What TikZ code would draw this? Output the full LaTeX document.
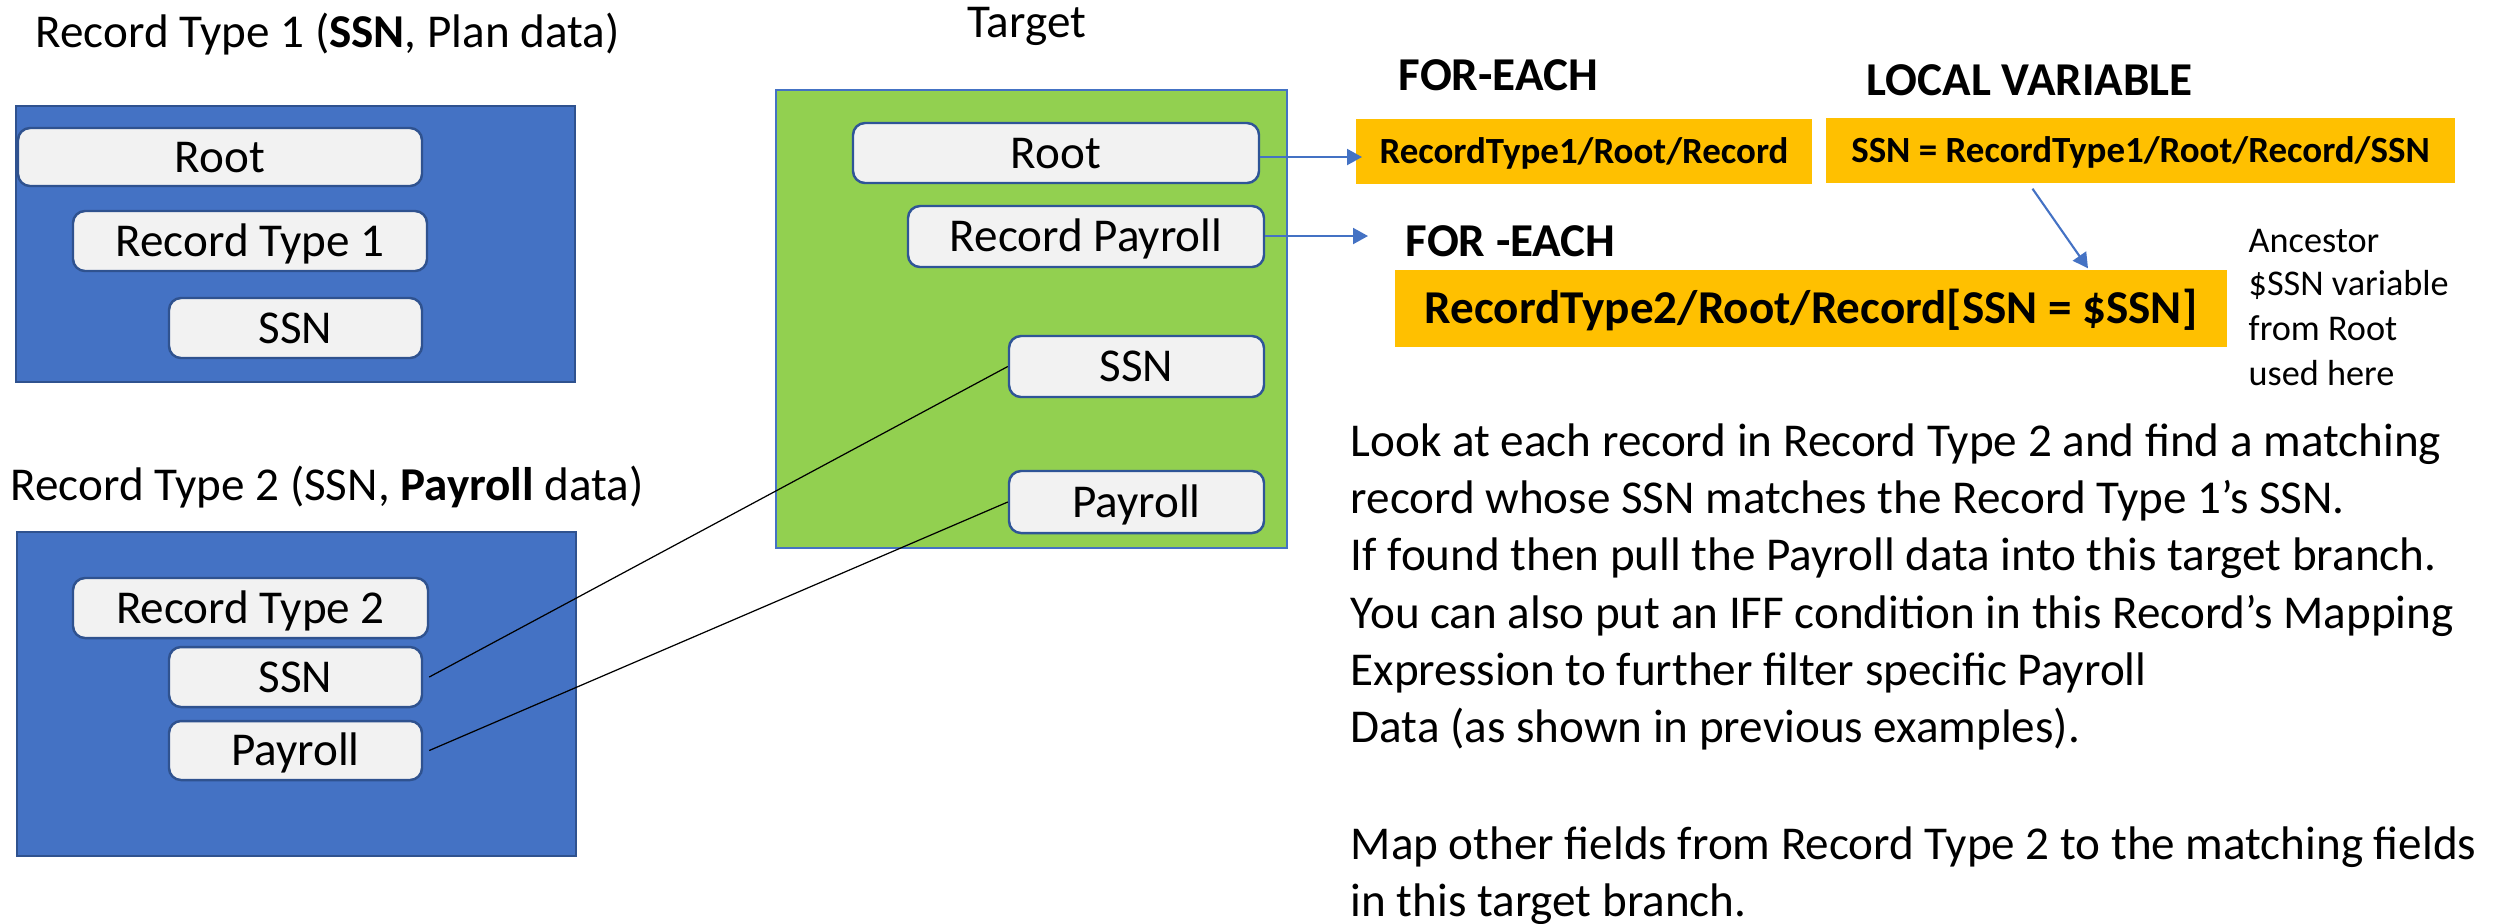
\documentclass[tikz,border=0pt]{standalone}
\usepackage{fontspec}
\setmainfont{Carlito}
\usetikzlibrary{arrows.meta,calc}
\definecolor{bluefill}{HTML}{4472C4}
\definecolor{blueline}{HTML}{2F528F}
\definecolor{greenfill}{HTML}{92D050}
\definecolor{lightfill}{HTML}{F2F2F2}
\definecolor{yellowfill}{HTML}{FFC000}
\definecolor{tgtline}{HTML}{2F5597}
\definecolor{arrowblue}{HTML}{4472C4}
\newcommand\fsbig{\fontsize{13.4pt}{16pt}\selectfont}
\newcommand\fssmall{\fontsize{10.5pt}{12.6pt}\selectfont}
\newcommand\fsnote{\fontsize{10.3pt}{12.4pt}\selectfont}
% name, x1, y1, x2, y2, style, text
\newcommand\mybox[7]{%
  \pgfmathsetmacro\mycx{(#2+#4)/2}%
  \pgfmathsetmacro\mycy{(#3+#5)/2}%
  \pgfmathsetmacro\myww{(#4-#2)*0.01}%
  \pgfmathsetmacro\myhh{(#5-#3)*0.01}%
  \node[#6, minimum width=\myww cm, minimum height=\myhh cm] (#1) at (\mycx,\mycy) {#7};}
\begin{document}
\begin{tikzpicture}[x=0.01cm,y=-0.01cm,
  srccont/.style={draw=blueline, fill=bluefill, line width=0.6pt, inner sep=0},
  tgtcont/.style={draw=bluefill, fill=greenfill, line width=0.6pt, inner sep=0},
  srcbox/.style={draw=blueline, fill=lightfill, rounded corners=0.12cm, line width=0.7pt, inner sep=0, font=\fsbig, text height=8.6pt, text depth=0pt},
  tgtbox/.style={draw=tgtline, fill=lightfill, rounded corners=0.12cm, line width=0.7pt, inner sep=0, font=\fsbig, text height=8.6pt, text depth=0pt},
  yboxs/.style={fill=yellowfill, inner sep=0, font=\fssmall\bfseries, text height=6.8pt, text depth=0pt},
  yboxb/.style={fill=yellowfill, inner sep=0, font=\fsbig\bfseries, text height=8.7pt, text depth=0pt},
  lbl/.style={anchor=base west, inner sep=0},
  link/.style={draw=black, line width=0.35pt},
  arr/.style={draw=arrowblue, line width=0.6pt, -{Triangle[length=0.15cm,width=0.16cm]}}]
\useasboundingbox (0,0) rectangle (2502,923);

% titles
\node[lbl, font=\fsbig] (title1) at (35,47) {Record Type 1 (\textbf{SSN}, Plan data)};
\node[lbl, font=\fsbig] (title2) at (10,500) {Record Type 2 (SSN, \textbf{Payroll} data)};
\node[lbl, font=\fsbig] (titlet) at (967,37) {Target};

% source 1
\mybox{src1}{16}{106}{575}{382}{srccont}{}
\mybox{s1root}{18}{128}{422}{186}{srcbox}{Root}
\mybox{s1rec}{73}{211}{427}{271}{srcbox}{Record Type 1}
\mybox{s1ssn}{169}{298}{422}{358}{srcbox}{SSN}

% source 2
\mybox{src2}{17}{532}{576}{856}{srccont}{}
\mybox{s2rec}{73}{578}{428}{638}{srcbox}{Record Type 2}
\mybox{s2ssn}{169}{647}{422}{707}{srcbox}{SSN}
\mybox{s2pay}{169}{721}{422}{780}{srcbox}{Payroll}

% target
\mybox{tgt}{776}{90}{1287}{548}{tgtcont}{}
\mybox{troot}{853}{123}{1259}{183}{tgtbox}{Root}
\mybox{trp}{908}{206}{1264}{267}{tgtbox}{Record Payroll}
\mybox{tssn}{1009}{336}{1264}{397}{tgtbox}{SSN}
\mybox{tpay}{1009}{471}{1264}{533}{tgtbox}{Payroll}

% mapping lines
\draw[link] ([xshift=0.06cm]s2ssn.east) -- (tssn.west);
\draw[link] ([xshift=0.06cm]s2pay.east) -- (tpay.west);

% right side labels
\node[lbl, font=\fsbig\bfseries] (fe1) at (1398,90) {FOR-EACH};
\node[lbl, font=\fsbig\bfseries] (lv) at (1866,95) {LOCAL VARIABLE};
\node[lbl, font=\fsbig\bfseries] (fe2) at (1405,256) {FOR -EACH};

\mybox{y1}{1356}{119}{1812}{184}{yboxs}{RecordType1/Root/Record}
\mybox{y2}{1826}{118}{2455}{183}{yboxs}{SSN = RecordType1/Root/Record/SSN}
\mybox{y3}{1395}{270}{2227}{347}{yboxb}{RecordType2/Root/Record[SSN = \$SSN]}

% arrows
\coordinate (a1e) at (1362,157);
\coordinate (a2e) at (1368,236);
\draw[arr] (troot.east |- a1e) -- (a1e);
\draw[arr] (trp.east |- a2e) -- (a2e);
\draw[arr] ($(y2.south)+(-108,5)$) -- ($(y3.north)+(277,-1)$);

% note
\node[lbl, font=\fsnote] (n1) at (2248,252) {Ancestor};
\node[lbl, font=\fsnote] (n2) at (2248,295) {\$SSN variable};
\node[lbl, font=\fsnote] (n3) at (2248,340) {from Root};
\node[lbl, font=\fsnote] (n4) at (2248,385) {used here};

% paragraph
\node[lbl, font=\fsbig] (p1) at (1350,456) {Look at each record in Record Type 2 and find a matching};
\node[lbl, font=\fsbig] (p2) at (1350,513) {record whose SSN matches the Record Type 1’s SSN.};
\node[lbl, font=\fsbig] (p3) at (1350,570) {If found then pull the Payroll data into this target branch.};
\node[lbl, font=\fsbig] (p4) at (1350,628) {You can also put an IFF condition in this Record’s Mapping};
\node[lbl, font=\fsbig] (p5) at (1350,685) {Expression to further filter specific Payroll};
\node[lbl, font=\fsbig] (p6) at (1350,742) {Data (as shown in previous examples).};
\node[lbl, font=\fsbig] (p8) at (1350,859) {Map other fields from Record Type 2 to the matching fields};
\node[lbl, font=\fsbig] (p9) at (1350,916) {in this target branch.};
\end{tikzpicture}
\end{document}
